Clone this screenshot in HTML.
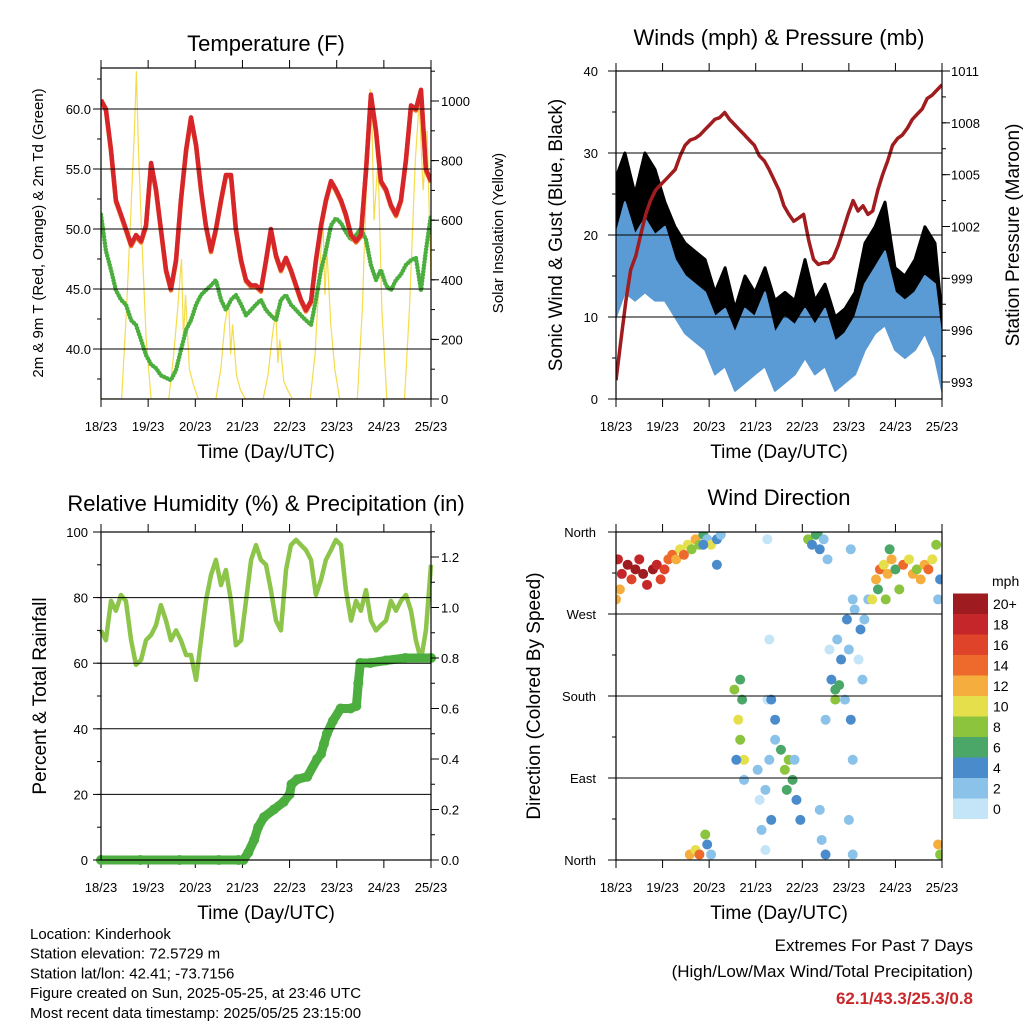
<!DOCTYPE html>
<html><head><meta charset="utf-8"><style>
body{margin:0;background:#fff}
svg{display:block;font-family:"Liberation Sans",Arial,sans-serif}
</style></head><body>
<svg id="c" width="1024" height="1024" viewBox="0 0 1024 1024" xmlns="http://www.w3.org/2000/svg">
<g id="root"></g>
</svg>
<script>
// ---------- DATA ----------
const dayLabels = ["18/23","19/23","20/23","21/23","22/23","23/23","24/23","25/23"];
const sampleHours = [0,2.5,5.1,7.6,10.2,12.7,15.3,17.8,20.4,22.9,25.5,28,30.5,33.1,35.6,38.2,40.7,43.3,45.8,48.4,50.9,53.4,56,58.5,61.1,63.6,66.2,68.7,71.3,73.8,76.4,78.9,81.4,84,86.5,89.1,91.6,94.2,96.7,99.3,101.8,104.3,106.9,109.4,112,114.5,117.1,119.6,122.2,124.7,127.3,129.8,132.3,134.9,137.4,140,142.5,145.1,147.6,150.2,152.7,155.2,157.8,160.3,162.9,165.4,168];
const temp2m = [60.75,60,56.6,52.4,51.2,50,48.7,49.5,49,50.3,55.5,53.3,50,46.6,45,47.4,52.4,56.6,59.3,57,53.3,50.3,48.2,50,52.4,54.5,54.5,50,47.4,45.75,45.3,45.3,44.9,47.4,50,47.8,46.6,47.6,46.6,45.3,44.1,43.25,44,47.4,50.3,52.4,54,53.3,52.4,51.2,49.5,49,49.5,54.9,61.2,58.2,54,53.3,52,51.2,52.4,55.75,60.3,60,61.6,55,54];
const dewPoint = [51.2,48.2,46.6,44.9,44.1,43.7,42.4,42,40.75,39.5,38.7,38.4,37.8,37.6,37.4,38.25,39.9,41.6,42.4,43.7,44.5,44.9,45.3,45.75,44.1,43.25,44.1,44.5,43.7,42.8,43.25,43.7,44.1,43.25,42.8,42.4,44.1,44.5,43.7,43.25,42.8,42.4,42,44.1,46.6,48.2,50.3,50.9,50.5,49.75,49.1,49.5,50,49.1,47,45.75,46.6,45.3,44.9,45.75,46.2,47,47.4,47.6,44.9,48.2,51.2];
const solarHours = [0,5,8,10.5,13,15,17,18,19,21,23,25.5,34.5,37,39,41,42,43,45,47,49.5,58.5,61,63,65,66,67,69,71,73.5,82.5,85,87,89,90,91,93,95,97.5,106.5,109,111,113,114,115,117,119,121.5,130.5,133,135,137,138,139,141,143,145.5,154.5,157,160,162,164,166,168];
const solarVals = [0,0,0,0,300,600,900,1100,850,500,200,0,0,150,300,470,200,350,100,50,0,0,100,250,330,150,250,80,30,0,0,80,200,300,120,200,60,30,0,0,150,400,600,350,500,250,100,0,0,300,700,1040,900,600,800,300,0,0,300,800,1000,700,900,400];
const pressure = [993.1,995.4,997.7,999.5,1000.3,1001.5,1002.7,1003.5,1004.1,1004.4,1004.7,1005,1005.3,1006.1,1006.7,1007,1007.1,1007.3,1007.6,1007.9,1008.2,1008.3,1008.6,1008.2,1007.9,1007.6,1007.3,1007,1006.7,1006.1,1005.8,1005.3,1004.7,1004.1,1003.2,1002.7,1002.3,1002.5,1002.7,1001.2,1000.1,999.8,999.9,999.9,1000.2,1000.9,1001.8,1002.7,1003.5,1002.9,1003.2,1002.7,1002.9,1004.1,1005,1005.8,1006.7,1007.1,1007.3,1007.7,1008.2,1008.5,1008.8,1009.4,1009.6,1009.9,1010.2];
const windHours = [0,4.6,9.8,14.9,20.1,25.2,30.4,35.6,40.7,45.9,51,56.2,61.3,66.5,71.6,76.8,81.9,87.1,92.2,97.4,102.5,107.7,112.9,118,123.2,128.3,133.5,138.6,143.8,148.9,154.1,159.2,164.4,168];
const windLow  = [10,13,12,13,12,12,10,8,7,6,3,4,1,2,3,4,1,2,3,5,3,4,1,2,3,6,8,9,6,5,6,8,5,1];
const windHigh = [20,24,20,22,20,21,17,15,14,13,10,11,8,11,10,13,8,10,9,11,9,11,7,8,10,14,16,18,13,12,13,15,14,7];
const gustLow  = [14,17,14,18,17,14,12,11,9,9,5,7,3,5,5,7,3,5,6,7,5,6,3,4,5,9,11,13,9,8,9,11,9,3];
const gustHigh = [27,30,25,30,28,24,21,19,18,17,13,16,11,15,13,16,12,13,12,17,12,14,10,11,13,19,21,24,16,15,17,21,19,10];
const relHum = [70,67,79,76,80.8,79,67,59.5,61,67,68.6,71.6,77.7,73,67,70,67,62.5,62.5,54.9,67,79,86.9,91.5,83.8,88.4,79,65.5,67,79,91.5,96,91.5,90,82.3,73,70,88.4,96,97.6,96,94.5,91.5,80.8,85.4,91.5,94.5,97.6,96,82.3,73,79,76,82.3,73,70,71.6,73,79,76,79,80.8,76,67,61,70,90];
const precipHours = [0,20,40,60,70,72.5,75,78,80,83,88,93,96,97,100,105,110,112,113.5,115,118,122,127,130,131,132,137,145,155,168];
const precipVals  = [0,0,0,0,0,0,0.03,0.08,0.13,0.17,0.2,0.23,0.26,0.3,0.32,0.33,0.4,0.42,0.46,0.5,0.55,0.6,0.6,0.61,0.7,0.78,0.78,0.79,0.8,0.8];
const dirHours = [1,3,6,8,10,12,14,16,19,21,23,25,27,29,31,33,35,37,39,41,43,2,0,45,47,49,52,54,52,45,38,41,43,46,47,49,61,63,64,65,66,62,66,64,73,74,75,77,77,79,80,82,78,79,78,85,87,89,91,93,88,95,92,82,80,99,101,103,105,107,109,104,105,106,108,121,122,120,121,122,120,122,111,113,115,113,118,116,114,119,123,126,128,130,125,127,110,108,132,134,136,138,140,142,144,146,148,151,153,155,157,159,161,163,165,167,166,141,135,139,166,167];
const dirDeg = [330,314,324,308,319,330,314,302,319,324,308,319,330,335,330,341,335,346,341,352,346,297,286,357,352,346,352,357,324,346,6,11,6,28,17,6,187,154,132,176,110,110,88,198,99,66,33,11,77,110,44,132,352,242,176,121,99,110,88,66,77,44,110,154,176,352,346,357,341,352,330,360,55,22,6,341,286,231,154,110,44,6,198,187,192,176,176,220,242,264,275,253,264,286,220,198,231,154,286,308,319,324,314,330,319,297,324,330,314,319,308,324,319,330,346,308,286,341,297,286,17,6];
const dirSpeed = [18,19,20,17,20,18,20,19,20,18,17,16,14,15,12,10,14,11,8,12,9,12,13,6,3,10,4,2,4,5,12,10,14,8,5,3,9,10,8,6,11,4,3,7,2,1,2,0,3,2,4,3,1,1,0,6,8,9,7,5,6,4,3,5,4,8,5,6,4,3,2,7,3,2,4,2,3,2,4,3,2,3,5,7,6,8,3,4,3,4,2,4,3,2,1,3,1,2,10,12,14,11,13,12,6,8,14,10,12,9,13,12,15,11,8,5,3,7,6,9,12,8];
const mphLabels = ["0","2","4","6","8","10","12","14","16","18","20+"];
const mphColors = ["#c4e4f7","#8ac2e9","#4a8ccb","#4ba768","#8cc43e","#e5df4b","#f5ad3d","#ee6a2c","#df4329","#c4262a","#9e1b1f"];

// ---------- HELPERS ----------
const NS="http://www.w3.org/2000/svg";
const root=document.getElementById('root');
function mk(tag,attrs,parent){const e=document.createElementNS(NS,tag);for(const k in attrs)e.setAttribute(k,attrs[k]);(parent||root).appendChild(e);return e;}
function txt(s,x,y,size,anchor,parent,extra){const e=mk('text',Object.assign({x:x,y:y,'font-size':size,'text-anchor':anchor||'middle',fill:'#000'},extra||{}),parent);e.textContent=s;return e;}
function lin(d0,d1,r0,r1){return v=>r0+(v-d0)*(r1-r0)/(d1-d0);}
function pathFrom(xs,ys,fx,fy){return xs.map((t,i)=>(i?'L':'M')+fx(t).toFixed(1)+','+fy(ys[i]).toFixed(1)).join('');}
function band(xs,lo,hi,fx,fy){let d=xs.map((t,i)=>(i?'L':'M')+fx(t).toFixed(1)+','+fy(hi[i]).toFixed(1)).join('');for(let i=xs.length-1;i>=0;i--)d+='L'+fx(xs[i]).toFixed(1)+','+fy(lo[i]).toFixed(1);return d+'Z';}

function panel(name,L,R,T,B){
  const g=mk('g',{});
  
  
  const fx=lin(0,168,L,R);
  const xa=mk('g',{},g);
  
  
  dayLabels.forEach((lab,i)=>{const x=fx(i*24);mk('line',{x1:x,x2:x,y1:B,y2:B+8,stroke:'#000','stroke-width':1},xa);mk('line',{x1:x,x2:x,y1:T,y2:T-8,stroke:'#000','stroke-width':1},xa);
    const t=txt(lab,x,B+32,13,'middle',xa);});
  const xt=txt('Time (Day/UTC)',(L+R)/2,B+59,19,'middle',g);
  
  
  return {g,fx};
}
function frame(g,L,R,T,B){mk('rect',{x:L,y:T,width:R-L,height:B-T,fill:'none',stroke:'#000','stroke-width':1.2},g);}
function yTicks(g,L,R,T,B,fy,majors,labels,minors,side,grid,fs,lx){
  majors.forEach((v,i)=>{const y=fy(v);
    if(grid)mk('line',{x1:L,x2:R,y1:y,y2:y,stroke:'#000','stroke-width':1},g);
    const x0=side==='l'?L:R, d=side==='l'?-8:8;
    mk('line',{x1:x0,x2:x0+d,y1:y,y2:y,stroke:'#000'},g);
    const t=txt(labels[i],lx,y+5,fs||13,side==='l'?'end':'start',g);
    
    });
  minors.forEach(v=>{const y=fy(v);const x0=side==='l'?L:R, d=side==='l'?-4:4;if(y>=T-0.5&&y<=B+0.5)mk('line',{x1:x0,x2:x0+d,y1:y,y2:y,stroke:'#000'},g);});
}
function rangeStep(a,b,s){const r=[];for(let v=a;v<=b+1e-9;v+=s)r.push(+v.toFixed(3));return r;}
function vlabel(s,x,y,size,g,name){const t=txt(s,x,y,size,'middle',g,{transform:`rotate(-90 ${x} ${y})`});return t;}

// ---------- PANEL 1: TEMPERATURE ----------
(function(){
  const L=101,R=431,T=68,B=399;
  const {g,fx}=panel('temperature-panel',L,R,T,B);
  const fy=lin(40,60,349,109), fs=lin(0,1000,399,101);
  const clip=mk('clipPath',{id:'c1'},g);mk('rect',{x:L,y:T,width:R-L,height:B-T},clip);
  const pg=mk('g',{'clip-path':'url(#c1)'},g);
  const sol=mk('path',{d:pathFrom(solarHours,solarVals,fx,fs),fill:'none',stroke:'#f4dc4c','stroke-width':1.2},pg);
  
  yTicks(g,L,R,T,B,fy,[40,45,50,55,60],['40.0','45.0','50.0','55.0','60.0'],rangeStep(37.5,62.5,2.5),'l',true,13,91);
  yTicks(g,L,R,T,B,fs,[0,200,400,600,800,1000],['0','200','400','600','800','1000'],rangeStep(0,1100,100),'r',false,13,441);
  const dp=mk('path',{d:pathFrom(sampleHours,dewPoint,fx,fy),fill:'none',stroke:'#4cae3e','stroke-width':4.5,'stroke-linecap':'round','stroke-dasharray':'0 3.2'},pg);
  
  const o=mk('path',{d:pathFrom(sampleHours,temp2m,fx,v=>fy(v)+1.5),fill:'none',stroke:'#ef7a2a','stroke-width':4.5,'stroke-linejoin':'round'},pg);
  
  const r=mk('path',{d:pathFrom(sampleHours,temp2m,fx,fy),fill:'none',stroke:'#d7262a','stroke-width':4.5,'stroke-linejoin':'round'},pg);
  
  frame(g,L,R,T,B);
  const tt=txt('Temperature (F)',266,51,22,'middle',g);
  vlabel('2m & 9m T (Red, Orange) & 2m Td (Green)',43,233,15,g,'y-axis-title');
  vlabel('Solar Insolation (Yellow)',503,233,15,g,'right-y-axis-title');
})();

// ---------- PANEL 2: WINDS ----------
(function(){
  const L=616,R=942,T=71,B=399;
  const {g,fx}=panel('winds-panel',L,R,T,B);
  const fy=lin(0,40,399,71), fp=lin(993,1011,382,71);
  const clip=mk('clipPath',{id:'c2'},g);mk('rect',{x:L,y:T,width:R-L,height:B-T},clip);
  const pg=mk('g',{'clip-path':'url(#c2)'},g);
  yTicks(g,L,R,T,B,fy,[0,10,20,30,40],['0','10','20','30','40'],rangeStep(0,40,5),'l',true,13,598);
  yTicks(g,L,R,T,B,fp,[993,996,999,1002,1005,1008,1011],['993','996','999','1002','1005','1008','1011'],rangeStep(991.5,1011,1.5),'r',false,13,951);
  const gb=mk('path',{d:band(windHours,gustLow,gustHigh,fx,fy),fill:'#000',stroke:'#000','stroke-width':3,'stroke-linejoin':'round'},pg);
  
  const wb=mk('path',{d:band(windHours,windLow,windHigh,fx,fy),fill:'#5b9bd5',stroke:'#5b9bd5','stroke-width':2,'stroke-linejoin':'round'},pg);
  
  const p=mk('path',{d:pathFrom(sampleHours,pressure,fx,fp),fill:'none',stroke:'#a11c1f','stroke-width':3.5,'stroke-linejoin':'round'},pg);
  
  frame(g,L,R,T,B);
  const tt=txt('Winds (mph) & Pressure (mb)',779,45,22,'middle',g);
  vlabel('Sonic Wind & Gust (Blue, Black)',562,235,19,g,'y-axis-title');
  vlabel('Station Pressure (Maroon)',1019,235,19,g,'right-y-axis-title');
})();

// ---------- PANEL 3: RH & PRECIP ----------
(function(){
  const L=101,R=431,T=532,B=860;
  const {g,fx}=panel('humidity-precip-panel',L,R,T,B);
  const fy=lin(0,100,860,532), fr=lin(0,1.2,860,557);
  const clip=mk('clipPath',{id:'c3'},g);mk('rect',{x:L-6,y:T,width:R-L+12,height:B-T+6},clip);
  const pg=mk('g',{'clip-path':'url(#c3)'},g);
  yTicks(g,L,R,T,B,fy,[0,20,40,60,80,100],['0','20','40','60','80','100'],rangeStep(0,100,10),'l',true,13,88);
  yTicks(g,L,R,T,B,fr,[0,0.2,0.4,0.6,0.8,1.0,1.2],['0.0','0.2','0.4','0.6','0.8','1.0','1.2'],rangeStep(0,1.3,0.1),'r',false,13,441);
  const rh=mk('path',{d:pathFrom(sampleHours,relHum,fx,fy),fill:'none',stroke:'#8dc54a','stroke-width':4.5,'stroke-linejoin':'round'},pg);
  
  const pp=mk('path',{d:pathFrom(precipHours,precipVals,fx,fr),fill:'none',stroke:'#4cae3e','stroke-width':9,'stroke-linejoin':'round','stroke-linecap':'round'},pg);
  
  precipHours.forEach((t,i)=>{const c=mk('circle',{cx:fx(t),cy:fr(precipVals[i]),r:5,fill:'#4cae3e'},pg);});
  frame(g,L,R,T,B);
  const tt=txt('Relative Humidity (%) & Precipitation (in)',266,511,22,'middle',g);
  vlabel('Percent & Total Rainfall',46,696,19,g,'y-axis-title');
})();

// ---------- PANEL 4: WIND DIRECTION ----------
(function(){
  const L=616,R=942,T=532,B=860;
  const {g,fx}=panel('wind-direction-panel',L,R,T,B);
  const fy=lin(0,360,860,532);
  const clip=mk('clipPath',{id:'c4'},g);mk('rect',{x:L,y:T,width:R-L,height:B-T},clip);
  const pg=mk('g',{'clip-path':'url(#c4)'},g);
  yTicks(g,L,R,T,B,fy,[0,90,180,270,360],['North','East','South','West','North'],rangeStep(0,360,45),'l',true,13,596);
  const dg=mk('g',{},pg);
  dirHours.forEach((t,i)=>{const idx=Math.min(10,Math.floor(dirSpeed[i]/2));const c=mk('circle',{cx:fx(t),cy:fy(dirDeg[i]),r:5,fill:mphColors[idx]},dg);
    
    });
  frame(g,L,R,T,B);
  const tt=txt('Wind Direction',779,505,22,'middle',g);
  vlabel('Direction (Colored By Speed)',540,696,19,g,'y-axis-title');
  const cb=mk('g',{},g);
  const bx=953,bw=35,bh=20.5,bBot=819;
  mphLabels.forEach((lab,i)=>{const y=bBot-(i+1)*bh;mk('rect',{x:bx,y:y,width:bw,height:bh,fill:mphColors[i]},cb);
    const t=txt(lab,993,y+bh/2+5,14,'start',cb);});
  const mt=txt('mph',992,586,14,'start',cb);
})();

// ---------- FOOTER ----------
(function(){
  const f=mk('g',{});
  ["Location: Kinderhook","Station elevation: 72.5729 m","Station lat/lon: 42.41; -73.7156","Figure created on Sun, 2025-05-25, at 23:46 UTC","Most recent data timestamp: 2025/05/25 23:15:00"].forEach((s,i)=>txt(s,30,939+i*19.7,15,'start',f));
  const e=mk('g',{});
  txt('Extremes For Past 7 Days',973,951,17,'end',e);
  txt('(High/Low/Max Wind/Total Precipitation)',973,977,17,'end',e);
  const v=txt('62.1/43.3/25.3/0.8',973,1004,17,'end',e,{fill:'#c8282a','font-weight':'bold'});
  
})();
</script>
</body></html>
